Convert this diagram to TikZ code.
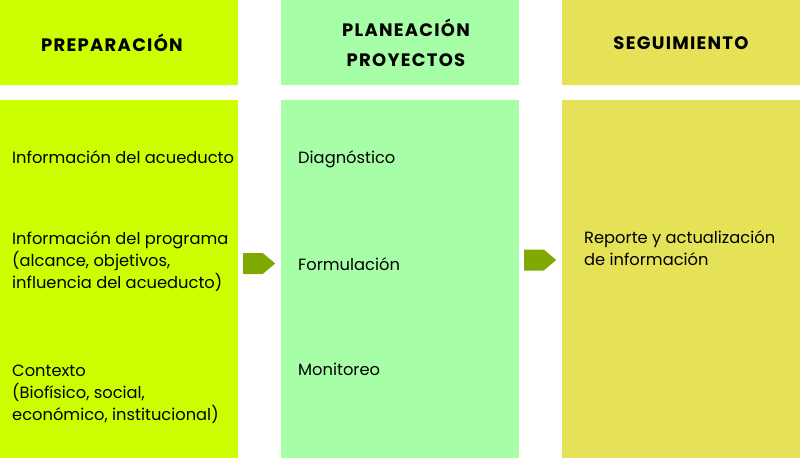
\documentclass[tikz,border=0pt]{standalone}
\usepackage{fontspec}
\setmainfont{Poppins}
\newfontfamily\headfont[LetterSpace=7]{Poppins}
\usetikzlibrary{shapes.symbols,positioning}
\definecolor{limegreen}{HTML}{CCFF00}
\definecolor{mintgreen}{HTML}{A6FFA6}
\definecolor{softyellow}{HTML}{E6E257}
\definecolor{arrowgreen}{HTML}{7FA800}
\tikzset{
    header/.style={
        rectangle,
        minimum width=238pt,
        minimum height=85pt,
        anchor=north west,
        inner sep=0pt
    },
    column/.style={
        rectangle,
        minimum width=238pt,
        minimum height=358pt,
        anchor=north west,
        inner sep=0pt
    },
    title/.style={
        inner sep=0pt,
        align=center,
        font=\headfont\bfseries\fontsize{18}{30}\selectfont
    },
    item/.style={
        anchor=base west,
        inner sep=0pt,
        align=left,
        font=\fontsize{16.3}{22}\selectfont
    },
    flecha/.style={
        signal,
        signal to=east,
        signal pointer angle=80,
        fill=arrowgreen,
        minimum width=32pt,
        minimum height=21pt,
        inner sep=0pt,
        anchor=west
    }
}
\begin{document}
\begin{tikzpicture}[x=1pt,y=-1pt]
\useasboundingbox (0,0) rectangle (801,458);
% Preparacion
\node[header, fill=limegreen] (prep-head) at (0,0) {};
\node[column, fill=limegreen] (prep-body) at (0,100) {};
\node[title] (prep-title) at (112,42.5) {PREPARACIÓN};
\node[item] (prep-acueducto) at (12,163) {Información del acueducto};
\node[item] (prep-programa) at (12,288) {Información del programa\\(alcance, objetivos,\\influencia del acueducto)};
\node[item] (prep-contexto) at (12,420) {Contexto\\(Biofísico, social,\\económico, institucional)};

% Planeacion
\node[header, fill=mintgreen] (plan-head) at (281,0) {};
\node[column, fill=mintgreen] (plan-body) at (281,100) {};
\node[title] (plan-title) at (406,42.5) {PLANEACIÓN\\PROYECTOS};
\node[item] (plan-diag) at (298,163) {Diagnóstico};
\node[item] (plan-form) at (298,270) {Formulación};
\node[item] (plan-moni) at (298,375) {Monitoreo};

% Seguimiento
\node[header, fill=softyellow] (seg-head) at (562,0) {};
\node[column, fill=softyellow] (seg-body) at (562,100) {};
\node[title] (seg-title) at (681,43) {SEGUIMIENTO};
\node[item] (seg-reporte) at (584,265) {Reporte y actualización\\de información};

% flechas
\node[flecha] (flecha-1) at (243,263.5) {};
\node[flecha] (flecha-2) at (524,260) {};
\end{tikzpicture}
\end{document}
